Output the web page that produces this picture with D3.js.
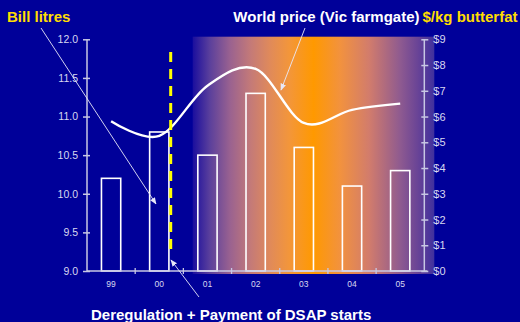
<!DOCTYPE html>
<html><head><meta charset="utf-8">
<script src="https://cdn.jsdelivr.net/npm/d3@7"></script>
<style>
html,body{margin:0;padding:0;background:#000099;}
svg{display:block;font-family:"Liberation Sans",Arial,sans-serif;}
</style></head>
<body>
<svg id="c" width="520" height="322"></svg>
<script>
const categories = ["99","00","01","02","03","04","05"];
const billLitres = [10.2, 10.8, 10.5, 11.3, 10.6, 10.1, 10.3];
const worldPrice = [5.82, 5.25, 7.2, 7.85, 5.75, 6.26, 6.5];
const leftTicks = [9.0, 9.5, 10.0, 10.5, 11.0, 11.5, 12.0];
const rightTicks = [0,1,2,3,4,5,6,7,8,9];

const svg = d3.select("#c");
const L = 87, R = 424.3, T = 39.3, B = 271;
const axisCol = "#c8c8e4", labCol = "#d8d8f0";

const x = d3.scaleBand().domain(categories).range([L, R]).paddingInner(0.6).paddingOuter(0.3);
const yL = d3.scaleLinear().domain([9, 12]).range([B, T]);
const yR = d3.scaleLinear().domain([0, 9]).range([B, T]);

// gradient background
const defs = svg.append("defs");
const g = defs.append("linearGradient").attr("id","grad").attr("x1","0").attr("x2","1").attr("y1","0").attr("y2","0");
[[0,"#1a0e9e"],[0.07,"#5a3f9c"],[0.155,"#9a6290"],[0.24,"#c47a78"],[0.32,"#e08a5a"],[0.40,"#f3963a"],[0.5,"#ff9900"],
 [0.61,"#f2923e"],[0.73,"#d27c6c"],[0.86,"#8e5a90"],[0.93,"#6a4496"],[1,"#40309e"]]
 .forEach(s => g.append("stop").attr("offset", s[0]).attr("stop-color", s[1]));
svg.append("rect").attr("x",192.7).attr("y",36.7).attr("width",434.3-192.7).attr("height",274-36.7).attr("fill","url(#grad)");

// markers
function marker(id){
  defs.append("marker").attr("id",id).attr("viewBox","0 0 10 10").attr("refX",9).attr("refY",5)
    .attr("markerWidth",7).attr("markerHeight",7).attr("orient","auto").attr("markerUnits","userSpaceOnUse")
    .append("path").attr("d","M0,1 L10,5 L0,9 Z").attr("fill","#e8e8f8");
}
marker("arr");

// bars
svg.append("g").selectAll("rect").data(categories).join("rect")
  .attr("x", d => x(d)).attr("width", x.bandwidth())
  .attr("y", (d,i) => yL(billLitres[i])).attr("height", (d,i) => B - yL(billLitres[i]))
  .attr("fill","none").attr("stroke","#ffffff").attr("stroke-width",1.6);

// left axis
const la = svg.append("g").attr("transform",`translate(${L},0)`)
  .call(d3.axisLeft(yL).tickValues(leftTicks).tickFormat(d3.format(".1f")).tickSize(4).tickPadding(5));
la.selectAll(".tick line").attr("x1",-4).attr("x2",3);
// right axis
const ra = svg.append("g").attr("transform",`translate(${R},0)`)
  .call(d3.axisRight(yR).tickValues(rightTicks).tickFormat(d => "$" + d).tickSize(4).tickPadding(5));
ra.selectAll(".tick line").attr("x1",-3).attr("x2",4);
[la, ra].forEach(a => {
  a.select(".domain").attr("stroke",axisCol).attr("stroke-width",1.5).attr("d", `M0,${T}V${B}`);
  a.selectAll(".tick line").attr("stroke",axisCol).attr("stroke-width",1.5);
  a.selectAll(".tick text").attr("fill",labCol).attr("font-size", 11).attr("font-family","Liberation Sans, Arial, sans-serif");
});
la.selectAll(".tick text").attr("font-size",10.5);

// bottom axis
const step = x.step();
const ba = svg.append("g");
ba.append("line").attr("x1",L).attr("x2",R+3).attr("y1",B).attr("y2",B).attr("stroke",axisCol).attr("stroke-width",1.5);
ba.selectAll("line.t").data(d3.range(1, categories.length)).join("line").attr("class","t")
  .attr("x1", i => L + i*step).attr("x2", i => L + i*step).attr("y1",B-3).attr("y2",B+3)
  .attr("stroke",axisCol).attr("stroke-width",1.3);
ba.selectAll("text").data(categories).join("text")
  .attr("x", d => x(d) + x.bandwidth()/2).attr("y", 287).attr("text-anchor","middle")
  .attr("fill",labCol).attr("font-size",8.5).text(d => d);

// price line
const line = d3.line().x((d,i) => x(categories[i]) + x.bandwidth()/2).y(d => yR(d)).curve(d3.curveCardinal.tension(0));
svg.append("path").datum(worldPrice).attr("d", line).attr("fill","none").attr("stroke","#ffffff").attr("stroke-width",2.4);

// dashed yellow line
svg.append("line").attr("x1",170.7).attr("x2",170.7).attr("y1",52).attr("y2",254)
  .attr("stroke","#ffff00").attr("stroke-width",3).attr("stroke-dasharray","10,7");

// annotation arrows
function arrow(x1,y1,x2,y2){
  svg.append("line").attr("x1",x1).attr("y1",y1).attr("x2",x2).attr("y2",y2)
    .attr("stroke","#e8e8f8").attr("stroke-width",0.9).attr("marker-end","url(#arr)");
}
arrow(41,28,156,204);
arrow(305,28,281,90);
arrow(199,297,171,260);

// texts
svg.append("text").attr("x",7).attr("y",22).attr("fill","#ffdd00").attr("font-weight","bold").attr("font-size",15).text("Bill litres");
svg.append("text").attr("x",419.5).attr("y",22).attr("text-anchor","end").attr("fill","#ffffff").attr("font-weight","bold").attr("font-size",15).text("World price (Vic farmgate)");
svg.append("text").attr("x",422.5).attr("y",22).attr("fill","#ffdd00").attr("font-weight","bold").attr("font-size",15).text("$/kg butterfat");
svg.append("text").attr("x",91).attr("y",320).attr("fill","#ffffff").attr("font-weight","bold").attr("font-size",15).text("Deregulation + Payment of DSAP starts");
</script>
</body></html>
